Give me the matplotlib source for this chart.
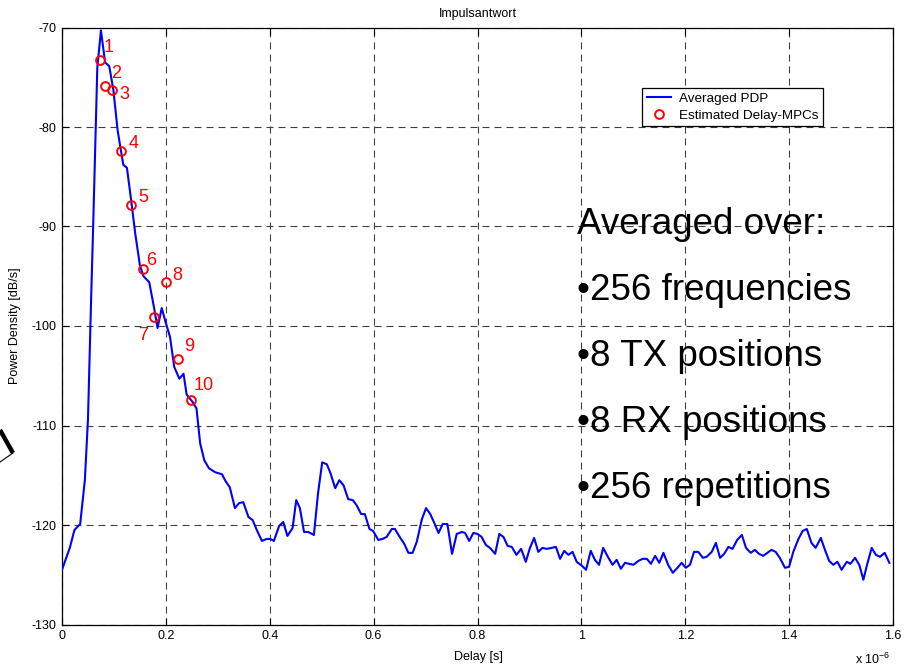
import matplotlib
matplotlib.use('Agg')
import matplotlib.pyplot as plt
from matplotlib.lines import Line2D
import numpy as np

plt.rcParams['font.family'] = ['Liberation Sans', 'DejaVu Sans']
plt.rcParams['mathtext.fontset'] = 'custom'
plt.rcParams['mathtext.rm'] = 'Liberation Sans'
plt.rcParams['mathtext.it'] = 'Liberation Sans'

# ---- data (delay in microseconds, power in dB) ----
delay_us = [0.000, 0.015, 0.024, 0.035, 0.044, 0.050, 0.056, 0.060, 0.065, 0.068,
            0.075, 0.083, 0.091, 0.099, 0.107, 0.114, 0.118, 0.125, 0.133, 0.141,
            0.150, 0.157, 0.168, 0.177, 0.184, 0.192, 0.200, 0.208, 0.216, 0.226,
            0.234, 0.240, 0.251, 0.259, 0.266, 0.274, 0.283, 0.295, 0.308, 0.315,
            0.323, 0.333, 0.341, 0.349, 0.359, 0.367, 0.375, 0.385, 0.394, 0.401,
            0.408, 0.418, 0.426, 0.434, 0.444, 0.451, 0.458, 0.466, 0.474, 0.485,
            0.493, 0.501, 0.510, 0.517, 0.526, 0.534, 0.542, 0.551, 0.560, 0.567,
            0.576, 0.583, 0.592, 0.599, 0.609, 0.617, 0.625, 0.635, 0.641, 0.649,
            0.659, 0.667, 0.675, 0.683, 0.693, 0.701, 0.709, 0.716, 0.725, 0.733,
            0.742, 0.751, 0.760, 0.770, 0.776, 0.784, 0.792, 0.800, 0.808, 0.816,
            0.824, 0.834, 0.842, 0.850, 0.858, 0.866, 0.875, 0.884, 0.893, 0.901,
            0.909, 0.917, 0.925, 0.933, 0.943, 0.951, 0.959, 0.967, 0.975, 0.983,
            0.991, 1.001, 1.009, 1.018, 1.026, 1.034, 1.042, 1.051, 1.060, 1.068,
            1.076, 1.084, 1.092, 1.100, 1.110, 1.118, 1.126, 1.134, 1.142, 1.150,
            1.158, 1.167, 1.176, 1.185, 1.193, 1.201, 1.209, 1.217, 1.225, 1.234,
            1.241, 1.251, 1.259, 1.267, 1.275, 1.283, 1.291, 1.300, 1.309, 1.317,
            1.326, 1.334, 1.342, 1.350, 1.358, 1.366, 1.374, 1.382, 1.392, 1.400,
            1.408, 1.418, 1.426, 1.434, 1.443, 1.451, 1.461, 1.469, 1.477, 1.485,
            1.493, 1.501, 1.511, 1.518, 1.527, 1.535, 1.543, 1.550, 1.559, 1.567,
            1.575, 1.584, 1.593]
pdp_db = [-124.5, -122.3, -120.5, -119.9, -115.5, -109.4, -97.4, -90.0, -80.0, -74.0,
          -70.3, -73.5, -73.9, -76.3, -80.3, -82.5, -83.8, -84.1, -87.3, -90.7,
          -93.9, -95.0, -95.6, -98.1, -100.2, -98.2, -99.7, -101.1, -104.1, -105.3,
          -104.8, -106.9, -107.6, -108.3, -111.8, -113.5, -114.3, -114.7, -114.9, -115.6,
          -116.2, -118.3, -117.8, -117.7, -119.2, -119.5, -120.5, -121.6, -121.4, -121.4,
          -121.6, -120.1, -119.7, -121.1, -120.3, -117.5, -118.3, -120.7, -120.7, -121.0,
          -116.8, -113.7, -113.9, -114.8, -116.3, -115.5, -116.0, -117.4, -117.5, -118.0,
          -118.9, -118.9, -120.4, -120.6, -121.5, -121.4, -121.2, -120.4, -120.4, -121.1,
          -121.9, -122.8, -122.8, -121.7, -119.4, -118.3, -118.9, -119.7, -120.8, -119.9,
          -119.9, -122.9, -120.9, -120.7, -120.8, -121.6, -120.8, -120.9, -121.2, -122.0,
          -122.3, -122.9, -120.9, -121.2, -122.1, -122.2, -123.0, -122.4, -123.7, -122.3,
          -121.3, -122.7, -122.3, -122.4, -122.3, -122.2, -123.4, -122.6, -123.0, -122.7,
          -123.7, -124.1, -124.5, -122.6, -123.5, -124.0, -122.3, -123.2, -124.0, -123.5,
          -124.4, -123.8, -123.9, -124.0, -123.6, -123.4, -123.4, -123.9, -123.1, -123.8,
          -122.8, -124.0, -124.8, -124.3, -123.8, -124.3, -124.0, -122.7, -122.7, -123.3,
          -123.2, -122.7, -121.8, -123.3, -122.9, -122.2, -122.4, -121.5, -121.0, -122.3,
          -122.8, -122.5, -122.9, -123.1, -122.8, -122.5, -122.7, -123.3, -124.3, -124.2,
          -122.7, -121.4, -120.6, -120.4, -121.8, -122.3, -121.3, -122.5, -123.6, -124.0,
          -123.7, -124.5, -123.7, -123.9, -123.3, -124.0, -125.5, -124.0, -122.3, -123.0,
          -123.2, -122.8, -123.8]

mpc_delay_us = [0.073, 0.083, 0.096, 0.114, 0.132, 0.155, 0.177, 0.200, 0.224, 0.248]
mpc_power_db = [-73.3, -75.9, -76.3, -82.4, -87.8, -94.3, -99.1, -95.6, -103.3, -107.4]
mpc_labels = ['1', '2', '3', '4', '5', '6', '7', '8', '9', '10']

x_ticks_us = [0, 0.2, 0.4, 0.6, 0.8, 1.0, 1.2, 1.4, 1.6]
y_ticks = [-130, -120, -110, -100, -90, -80, -70]

info_lines = ['Averaged over:', '\u2022256 frequencies', '\u20228 TX positions',
              '\u20228 RX positions', '\u2022256 repetitions']

# label offsets (points) of MPC numbers relative to their markers
label_offsets = [(6, 9), (8, 9.5), (9, -3), (9, 5), (9, 5), (6.5, 6.5), (-8, -13),
                 (8.5, 5), (8, 9), (9.5, 10)]

# ---- figure ----
W, H = 912, 670
fig = plt.figure(figsize=(W / 100, H / 100), dpi=100)
ax = fig.add_axes([62 / W, (H - 624.5) / H, (893 - 62) / W, (624.5 - 27.5) / H])

ax.plot(np.array(delay_us) * 1e-6, pdp_db, color=(0, 0, 1), lw=1.5,
        label='Averaged PDP', zorder=3)
ax.plot(np.array(mpc_delay_us) * 1e-6, mpc_power_db, linestyle='none', marker='o',
        mfc='none', mec=(1, 0, 0), mew=1.4, ms=6.3, label='Estimated Delay-MPCs', zorder=4)

for xv, yv, lab, off in zip(mpc_delay_us, mpc_power_db, mpc_labels, label_offsets):
    ax.annotate(lab, (xv * 1e-6, yv), xytext=off, textcoords='offset points',
                ha='center', va='center', color=(1, 0, 0), fontsize=13, zorder=5)

ax.set_xlim(0, 1.6e-6)
ax.set_ylim(-130, -70)
ax.set_xticks(np.array(x_ticks_us) * 1e-6)
ax.set_xticklabels(['%g' % v for v in x_ticks_us])
ax.set_yticks(y_ticks)
ax.set_yticklabels(['%g' % v for v in y_ticks])

ax.grid(True, color='#404040', linestyle=(0, (6.3, 4.5)), linewidth=0.8)
ax.set_axisbelow(True)
ax.tick_params(direction='in', length=5, width=0.8, top=True, right=True,
               labelsize=9, colors='black', pad=4)
for s in ax.spines.values():
    s.set_linewidth(0.9)
    s.set_color('black')

ax.set_title('Impulsantwort', fontsize=9, pad=7.5)
ax.set_xlabel('Delay [s]', fontsize=9)
ax.xaxis.set_label_coords(0.5006, -0.044)
ax.set_ylabel('Power Density [dB/s]', fontsize=9)
ax.yaxis.set_label_coords(-0.049, 0.5)

fig.text(890 / W, (H - 664) / H, r'x 10$^{-6}$', ha='right', va='baseline', fontsize=9)

leg = ax.legend(loc='upper left', bbox_to_anchor=(0.698, 0.8987), fontsize=9.7,
                frameon=True, fancybox=False, edgecolor='black', framealpha=1,
                borderaxespad=0, handlelength=1.8, handletextpad=0.6,
                labelspacing=0.3, borderpad=0.35, numpoints=1)
leg.get_frame().set_linewidth(0.9)
leg.set_zorder(6)

baselines = [0.6541, 0.5436, 0.4330, 0.3224, 0.2119]
for txt, yb in zip(info_lines, baselines):
    ax.text(0.6197, yb, txt, transform=ax.transAxes, fontsize=26.5,
            ha='left', va='baseline', color='black', zorder=7)

# cut-off slide decoration at the left edge (corner of a rotated box)
fig.add_artist(Line2D([0 / W, 13 / W], [(H - 430) / H, (H - 453) / H],
                      transform=fig.transFigure, color='black', lw=3.2,
                      solid_capstyle='butt'))
fig.add_artist(Line2D([13 / W, 0 / W], [(H - 453) / H, (H - 462) / H],
                      transform=fig.transFigure, color='black', lw=0.8))

fig.savefig('out.png', dpi=100)
